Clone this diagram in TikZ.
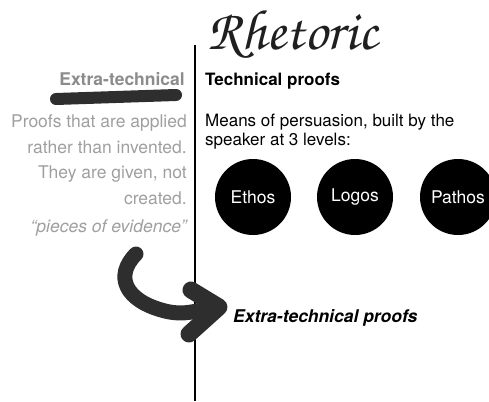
\documentclass[tikz,border=0pt]{standalone}
\usepackage[T1]{fontenc}
\usepackage{fontspec}
\setmainfont{TeX Gyre Heros}
\begin{document}
\begin{tikzpicture}[x=1pt,y=-1pt,
  body/.style={font=\fontsize{17.5}{21}\selectfont, inner sep=0pt},
  leftcol/.style={body, anchor=base east, text=gray!75!white},
  rightcol/.style={body, font=\fontsize{17}{21}\selectfont, anchor=base west, text=black},
  level/.style={circle, fill=black, minimum size=76pt, inner sep=0pt, text=white, font=\fontsize{17.5}{21}\selectfont},
  brush/.style={draw=black!82, line cap=round, line join=round}
]
\useasboundingbox (0,0) rectangle (489,401);
% title
\node[anchor=base west, inner sep=0pt, text=black!88, font=\fontencoding{T1}\fontfamily{pzc}\fontseries{mb}\fontshape{it}\fontsize{57}{60}\selectfont] (title) at (207,50) {Rhetoric};
% divider
\coordinate (dtop) at (195,45);
\coordinate (dbot) at (195,401);
\draw[line width=1.5pt] (dtop) -- (dbot);
% left column
\node[leftcol, font=\bfseries\fontsize{17.5}{21}\selectfont, text=gray!90!white] (xt) at (185,86) {Extra-technical};
\coordinate (u1) at (56,99);
\coordinate (u2) at (176,95);
\draw[brush, line width=12pt] (u1) -- (u2);
\node[leftcol] (l1) at (187,127) {Proofs that are applied};
\node[leftcol] (l2) at (187,153) {rather than invented.};
\node[leftcol] (l3) at (187,178) {They are given, not};
\node[leftcol] (l4) at (187,204) {created.};
\node[leftcol, font=\itshape\fontsize{17.5}{21}\selectfont] (l5) at (187,232) {“pieces of evidence”};
% right column
\node[rightcol, font=\bfseries\fontsize{17}{21}\selectfont] (tp) at (205,86) {Technical proofs};
\node[rightcol] (r1) at (205,126) {Means of persuasion, built by the};
\node[rightcol] (r2) at (205,145) {speaker at 3 levels:};
\node[level] (ethos) at (253,197) {Ethos};
\node[level] (logos) at (355,197) {Logos};
\node[level] (pathos) at (458,197) {Pathos};
\node[rightcol, font=\bfseries\itshape\fontsize{17.5}{21}\selectfont] (etp) at (233,322) {Extra-technical proofs};
% arrow
\coordinate (a0) at (136,254);
\coordinate (a1) at (212,307);
\coordinate (h1) at (191,290);
\coordinate (tip) at (219,307);
\coordinate (h2) at (189,334);
\draw[brush, line width=15pt] (a0) .. controls (114,276) and (125,301) .. (165,311) .. controls (185,316) and (200,310) .. (a1);
\draw[brush, line width=17pt] (h1) -- (tip) -- (h2);
\end{tikzpicture}
\end{document}
